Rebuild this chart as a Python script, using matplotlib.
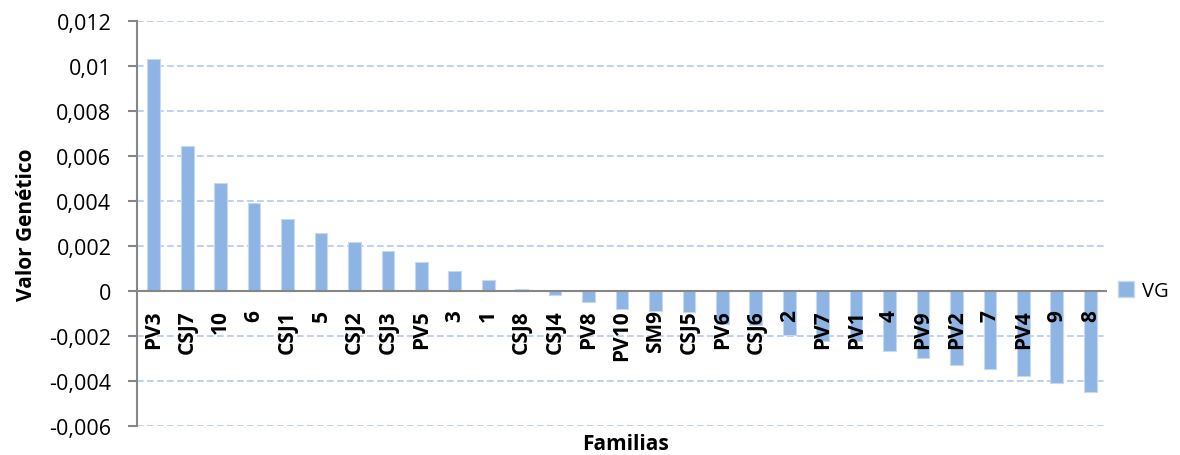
import numpy as np
import matplotlib.pyplot as plt
from matplotlib.patches import Patch

# ── Datos ───────────────────────────────────────────────────────────
familias = ["PV3", "CSJ7", "10", "6", "CSJ1", "5", "CSJ2", "CSJ3", "PV5", "3",
            "1", "CSJ8", "CSJ4", "PV8", "PV10", "SM9", "CSJ5", "PV6", "CSJ6", "2",
            "PV7", "PV1", "4", "PV9", "PV2", "7", "PV4", "9", "8"]
vg = [0.0103, 0.00643, 0.00481, 0.00392, 0.00321, 0.00256, 0.00218, 0.00178,
      0.00127, 0.00087, 0.00047, 0.0001, -0.00018, -0.00049, -0.00078,
      -0.0009, -0.00095, -0.00145, -0.0015, -0.00197, -0.0022, -0.0022,
      -0.00268, -0.00299, -0.00329, -0.00348, -0.00379, -0.00409, -0.00449]
yticks = [-0.006, -0.004, -0.002, 0, 0.002, 0.004, 0.006, 0.008, 0.01, 0.012]
ytick_labels = ["-0,006", "-0,004", "-0,002", "0", "0,002", "0,004",
                "0,006", "0,008", "0,01", "0,012"]

plt.rcParams['font.family'] = ['Open Sans', 'DejaVu Sans']

fig = plt.figure(figsize=(11.8, 4.56), dpi=100)
ax = fig.add_axes([137 / 1180, 29 / 456, 970 / 1180, 405 / 456])

x = np.arange(len(familias))
ax.bar(x, vg, width=0.38, color="#8EB4E3", edgecolor="#C6D9F1",
       linewidth=0.8, zorder=2)

ax.set_xlim(-0.5, len(familias) - 0.5)
ax.set_ylim(-0.006, 0.012)
ax.set_yticks(yticks)
ax.set_yticklabels(ytick_labels, fontsize=15.5)
ax.set_xticks([])

# rejilla discontinua
for t in yticks:
    if t != 0:
        ax.axhline(t, color="#B4C9EA", linestyle=(0, (4, 2)), linewidth=1.2, zorder=1)
ax.axhline(0, color="#868686", linewidth=1.5, zorder=3)

for s in ["top", "right", "bottom"]:
    ax.spines[s].set_visible(False)
ax.spines["left"].set_color("#868686")
ax.spines["left"].set_linewidth(1.5)
ax.tick_params(axis="y", direction="out", length=6.5, color="#868686", width=1.5, pad=12)

# etiquetas de familias bajo el eje cero
for xi, nombre in zip(x, familias):
    ax.annotate(nombre, (xi, 0), xytext=(0, -13), textcoords="offset points",
                rotation=90, ha="center", va="top", fontsize=15,
                fontweight="bold", zorder=4)

ax.set_ylabel("Valor Genético", fontsize=15, fontweight="bold", labelpad=9)
fig.text(625 / 1180, 11 / 456, "Familias", ha="center", va="center",
         fontsize=15, fontweight="bold")

fig.legend(handles=[Patch(facecolor="#8EB4E3", edgecolor="#C6D9F1", label="VG")],
           loc="center left", bbox_to_anchor=(1100 / 1180, (456 - 292) / 456),
           frameon=False, fontsize=14.5, handlelength=0.8, handleheight=0.8,
           handletextpad=0.4)

fig.savefig("out.png", dpi=100)
